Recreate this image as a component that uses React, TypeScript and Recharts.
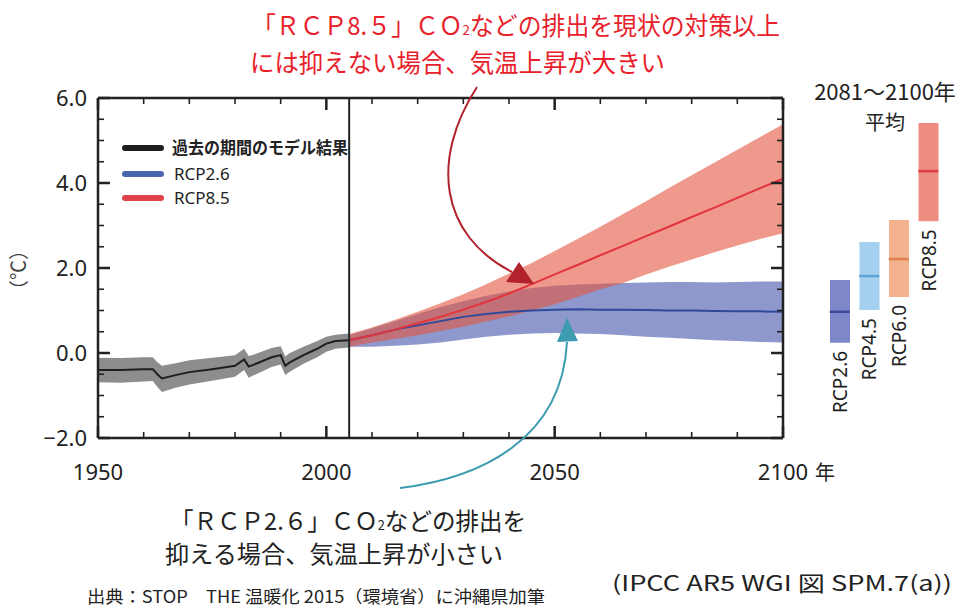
import React from "react";
import {
  ComposedChart,
  Area,
  Line,
  Bar,
  Scatter,
  XAxis,
  YAxis,
  ReferenceLine,
  Cell,
  LabelList,
} from "recharts";

const W = 971;
const H = 609;
const JP = "'Noto Sans CJK JP', 'Noto Sans', sans-serif";
const SANS = "'Noto Sans', 'DejaVu Sans', sans-serif";

// historical model run, 1950-2005
const histYears = [1950, 1955, 1960, 1962, 1963, 1964, 1967, 1970, 1975, 1980, 1982, 1983, 1984, 1988, 1990, 1991, 1992, 1995, 1998, 2000, 2002, 2005];
const histMean = [-0.4, -0.4, -0.38, -0.38, -0.5, -0.6, -0.52, -0.45, -0.38, -0.3, -0.15, -0.32, -0.28, -0.1, -0.05, -0.3, -0.22, -0.05, 0.1, 0.22, 0.28, 0.3];
const histLow = [-0.69, -0.7, -0.67, -0.66, -0.8, -0.92, -0.82, -0.74, -0.65, -0.56, -0.4, -0.58, -0.53, -0.33, -0.27, -0.52, -0.44, -0.25, -0.1, 0.03, 0.1, 0.13];
const histHigh = [-0.11, -0.12, -0.1, -0.1, -0.22, -0.3, -0.24, -0.17, -0.11, -0.05, 0.1, -0.07, -0.04, 0.12, 0.16, -0.08, 0.0, 0.15, 0.28, 0.38, 0.43, 0.46];

// projections, 2005-2100
const futureYears = [2005, 2010, 2015, 2020, 2025, 2030, 2035, 2040, 2045, 2050, 2055, 2060, 2065, 2070, 2075, 2080, 2085, 2090, 2095, 2100];
const rcp26Mean = [0.3, 0.42, 0.55, 0.65, 0.75, 0.85, 0.92, 0.97, 1.0, 1.02, 1.03, 1.02, 1.02, 1.01, 1.0, 1.0, 0.99, 0.98, 0.98, 0.97];
const rcp26Low = [0.15, 0.15, 0.17, 0.2, 0.25, 0.32, 0.38, 0.43, 0.46, 0.47, 0.46, 0.45, 0.42, 0.38, 0.36, 0.33, 0.3, 0.28, 0.26, 0.25];
const rcp26High = [0.42, 0.58, 0.75, 0.92, 1.08, 1.22, 1.35, 1.45, 1.53, 1.58, 1.61, 1.63, 1.65, 1.66, 1.67, 1.67, 1.66, 1.67, 1.68, 1.68];
const rcp85Mean = [0.3, 0.42, 0.55, 0.7, 0.85, 1.02, 1.2, 1.4, 1.62, 1.85, 2.07, 2.3, 2.52, 2.75, 2.97, 3.2, 3.42, 3.65, 3.88, 4.1];
const rcp85Low = [0.15, 0.25, 0.33, 0.42, 0.52, 0.62, 0.74, 0.86, 1.0, 1.15, 1.32, 1.5, 1.65, 1.85, 2.03, 2.2, 2.37, 2.53, 2.68, 2.82];
const rcp85High = [0.45, 0.6, 0.78, 0.97, 1.17, 1.38, 1.62, 1.87, 2.12, 2.4, 2.68, 2.97, 3.27, 3.57, 3.88, 4.18, 4.48, 4.78, 5.08, 5.38];

// 2081-2100 averages
const scenarioNames = ["RCP2.6", "RCP4.5", "RCP6.0", "RCP8.5"];
const scenarioLow = [0.24, 1.01, 1.32, 3.1];
const scenarioHigh = [1.72, 2.61, 3.13, 5.41];
const scenarioMean = [0.97, 1.81, 2.21, 4.28];
const scenarioFill = ["#7E88C8", "#A5CFEE", "#F3B18E", "#EC8D80"];
const scenarioLine = ["#3C4B98", "#5CA4D7", "#E07E4E", "#E23C44"];

const xTicks = [1950, 1960, 1970, 1980, 1990, 2000, 2010, 2020, 2030, 2040, 2050, 2060, 2070, 2080, 2090, 2100];
const xLabels = [1950, 2000, 2050, 2100];
const yTicks = [-2, -1.5, -1, -0.5, 0, 0.5, 1, 1.5, 2, 2.5, 3, 3.5, 4, 4.5, 5, 5.5, 6];
const yLabels = [-2, 0, 2, 4, 6];

const X_DOMAIN: [number, number] = [1950, 2100];
const Y_DOMAIN: [number, number] = [-2, 6];

const allYears = Array.from(new Set([...histYears, ...futureYears])).sort((a, b) => a - b);
const rows = allYears.map((year) => {
  const h = histYears.indexOf(year);
  const f = futureYears.indexOf(year);
  return {
    year,
    hist: h >= 0 ? histMean[h] : null,
    histBand: h >= 0 ? [histLow[h], histHigh[h]] : null,
    rcp26: f >= 0 ? rcp26Mean[f] : null,
    rcp26Band: f >= 0 ? [rcp26Low[f], rcp26High[f]] : null,
    rcp85: f >= 0 ? rcp85Mean[f] : null,
    rcp85Band: f >= 0 ? [rcp85Low[f], rcp85High[f]] : null,
  };
});

const scenarios = scenarioNames.map((name, i) => ({
  name,
  range: [scenarioLow[i], scenarioHigh[i]],
  mean: scenarioMean[i],
}));

const AXIS = "#222";
const FRAME = { stroke: AXIS, strokeWidth: 2.5 };

// plot box is 685 x 340 px; inward tick marks are given in data units
const PLOT_W = 685;
const PLOT_H = 340;
const yearsPerPx = (X_DOMAIN[1] - X_DOMAIN[0]) / PLOT_W;
const degPerPx = (Y_DOMAIN[1] - Y_DOMAIN[0]) / PLOT_H;
const tickLen = (major: boolean) => (major ? 12 : 6);
const tickWidth = (major: boolean) => (major ? 2.5 : 1.6);

type Seg = { key: string; seg: [{ x: number; y: number }, { x: number; y: number }]; major: boolean };
const frameTicks: Seg[] = [
  ...xTicks.flatMap((v) => {
    const major = xLabels.includes(v);
    const d = tickLen(major) * degPerPx;
    return [
      { key: `b${v}`, seg: [{ x: v, y: Y_DOMAIN[0] }, { x: v, y: Y_DOMAIN[0] + d }], major },
      { key: `t${v}`, seg: [{ x: v, y: Y_DOMAIN[1] }, { x: v, y: Y_DOMAIN[1] - d }], major },
    ] as Seg[];
  }),
  ...yTicks.flatMap((v) => {
    const major = yLabels.includes(v);
    const d = tickLen(major) * yearsPerPx;
    return [
      { key: `l${v}`, seg: [{ x: X_DOMAIN[0], y: v }, { x: X_DOMAIN[0] + d, y: v }], major },
      { key: `r${v}`, seg: [{ x: X_DOMAIN[1], y: v }, { x: X_DOMAIN[1] - d, y: v }], major },
    ] as Seg[];
  }),
];

const YearLabel = ({ x, y, payload }: any) => {
  const v = payload.value;
  return (
    <g>
      <text x={x} y={y + 42} textAnchor="middle" fontSize={22} fill="#222" fontFamily={SANS}>
        {v}
      </text>
      {v === 2100 && (
        <text x={x + 42} y={y + 42} textAnchor="middle" fontSize={20} fill="#222" fontFamily={JP}>
          年
        </text>
      )}
    </g>
  );
};

const TempLabel = ({ x, y, payload }: any) => {
  const v = payload.value;
  const label = (v < 0 ? "\u2212" : "") + Math.abs(v).toFixed(1);
  return (
    <text x={x - 11} y={y + 8} textAnchor="end" fontSize={22} fill="#222" fontFamily={SANS}>
      {label}
    </text>
  );
};

const MeanMark = (props: any) => {
  const { cx, cy, index } = props;
  return <line x1={cx - 10} y1={cy} x2={cx + 10} y2={cy} stroke={scenarioLine[index]} strokeWidth={2.5} />;
};

const ScenarioLabel = (props: any) => {
  const { x, y, width, height, value } = props;
  const bx = x + width / 2 + 7;
  const by = y + height + 8;
  return (
    <text x={bx} y={by} transform={`rotate(-90 ${bx} ${by})`} textAnchor="end" fontSize={19} fill="#222" fontFamily={SANS}>
      {value}
    </text>
  );
};

function MainChart() {
  return (
    <ComposedChart
      width={W}
      height={H}
      data={rows}
      margin={{ top: 97, right: 187, bottom: 170, left: 97 }}
      style={{ position: "absolute", left: 0, top: 0 }}
    >
      <XAxis xAxisId={0} type="number" dataKey="year" domain={X_DOMAIN} ticks={xLabels} interval={0} height={1} tickSize={0} tickMargin={0} tickLine={false} axisLine={FRAME} tick={(p: any) => <YearLabel {...p} />} />
      <XAxis xAxisId="top" orientation="top" type="number" dataKey="year" domain={X_DOMAIN} height={1} tickLine={false} axisLine={FRAME} tick={false} />
      <YAxis yAxisId={0} type="number" domain={Y_DOMAIN} ticks={yLabels} interval={0} width={1} tickSize={0} tickMargin={0} tickLine={false} axisLine={FRAME} tick={(p: any) => <TempLabel {...p} />} />
      <YAxis yAxisId="right" orientation="right" type="number" domain={Y_DOMAIN} width={1} tickLine={false} axisLine={FRAME} tick={false} />

      <Area dataKey="histBand" fill="#8C8D8F" fillOpacity={1} stroke="none" isAnimationActive={false} />
      <Area dataKey="rcp26Band" fill="#8F98CC" fillOpacity={1} stroke="none" isAnimationActive={false} />
      <Area dataKey="rcp85Band" fill="#E2553F" fillOpacity={0.6} stroke="none" isAnimationActive={false} />
      <Line dataKey="hist" stroke="#1E1E1E" strokeWidth={2} dot={false} isAnimationActive={false} />
      <Line dataKey="rcp26" stroke="#2F4A9B" strokeWidth={2} dot={false} isAnimationActive={false} />
      <Line dataKey="rcp85" stroke="#E3343C" strokeWidth={2} dot={false} isAnimationActive={false} />
      <ReferenceLine x={2005} stroke={AXIS} strokeWidth={2} />

      {frameTicks.map((t) => (
        <ReferenceLine key={t.key} segment={t.seg} stroke={AXIS} strokeWidth={tickWidth(t.major)} ifOverflow="visible" />
      ))}
    </ComposedChart>
  );
}

function PeriodMeanChart() {
  return (
    <ComposedChart
      width={W}
      height={H}
      data={scenarios}
      margin={{ top: 98, right: 28, bottom: 171, left: 825 }}
      style={{ position: "absolute", left: 0, top: 0 }}
    >
      <XAxis dataKey="name" type="category" hide />
      <YAxis type="number" domain={Y_DOMAIN} hide />
      <Bar dataKey="range" barSize={20} isAnimationActive={false}>
        {scenarios.map((s, i) => (
          <Cell key={s.name} fill={scenarioFill[i]} />
        ))}
        <LabelList dataKey="name" content={(p: any) => <ScenarioLabel {...p} />} />
      </Bar>
      <Scatter dataKey="mean" shape={(p: any) => <MeanMark {...p} />} isAnimationActive={false} />
    </ComposedChart>
  );
}

function Notes() {
  return (
    <svg width={W} height={H} style={{ position: "absolute", left: 0, top: 0, pointerEvents: "none" }}>
      {/* legend */}
      <line x1={125} y1={148} x2={161} y2={148} stroke="#1E1E1E" strokeWidth={6} strokeLinecap="round" />
      <line x1={125} y1={174} x2={161} y2={174} stroke="#4A65B0" strokeWidth={6} strokeLinecap="round" />
      <line x1={125} y1={198} x2={161} y2={198} stroke="#E0424A" strokeWidth={6} strokeLinecap="round" />
      <text x={172} y={154} fontSize={17} fontWeight={700} fill="#222" fontFamily={JP} textLength={176} lengthAdjust="spacingAndGlyphs">
        過去の期間のモデル結果
      </text>
      <text x={174} y={180} fontSize={17} fill="#222" fontFamily={SANS}>RCP2.6</text>
      <text x={174} y={204} fontSize={17} fill="#222" fontFamily={SANS}>RCP8.5</text>

      {/* y-axis unit */}
      <text x={26} y={270} transform="rotate(-90 26 270)" textAnchor="middle" fontSize={20} fill="#444" fontFamily={JP}>
        （℃）
      </text>

      {/* period-mean header */}
      <text x={885} y={100} textAnchor="middle" fontSize={22} fill="#222" fontFamily={JP}>2081～2100年</text>
      <text x={885} y={130} textAnchor="middle" fontSize={20} fill="#222" fontFamily={JP}>平均</text>

      {/* high-emission note */}
      <text x={252} y={35} fontSize={25} fill="#E8202A" fontFamily={JP} textLength={528} lengthAdjust="spacingAndGlyphs">
        「ＲＣＰ8.５」ＣＯ<tspan fontSize={14}>2</tspan>などの排出を現状の対策以上
      </text>
      <text x={250} y={72} fontSize={25} fill="#E8202A" fontFamily={JP} textLength={415} lengthAdjust="spacingAndGlyphs">
        には抑えない場合、気温上昇が大きい
      </text>
      <path d="M 477 87 C 430 160, 440 235, 512 272" fill="none" stroke="#B2222C" strokeWidth={2} />
      <path d="M 534 284 L 506 282 L 519 262 z" fill="#B2222C" />

      {/* low-emission note */}
      <path d="M 400 488 C 480 478, 562 440, 567 342" fill="none" stroke="#3D9BB0" strokeWidth={2} />
      <path d="M 567 318 L 557 342 L 578 341 z" fill="#3D9BB0" />
      <text x={170} y={530} fontSize={24} fill="#222" fontFamily={JP} textLength={356} lengthAdjust="spacingAndGlyphs">
        「ＲＣＰ2.６」ＣＯ<tspan fontSize={13}>2</tspan>などの排出を
      </text>
      <text x={165} y={563} fontSize={24} fill="#222" fontFamily={JP} textLength={338} lengthAdjust="spacingAndGlyphs">
        抑える場合、気温上昇が小さい
      </text>

      {/* sources */}
      <text x={87} y={603} fontSize={17} fill="#222" fontFamily={JP} textLength={458} lengthAdjust="spacingAndGlyphs">
        出典：STOP　THE 温暖化 2015（環境省）に沖縄県加筆
      </text>
      <text x={612} y={591} fontSize={21} fill="#222" fontFamily={JP} textLength={340} lengthAdjust="spacingAndGlyphs">
        (IPCC AR5 WGI 図 SPM.7(a))
      </text>
    </svg>
  );
}

export default function App() {
  return (
    <div style={{ position: "relative", width: W, height: H, background: "#fff", overflow: "hidden" }}>
      <style>{"body{margin:0}"}</style>
      <MainChart />
      <PeriodMeanChart />
      <Notes />
    </div>
  );
}
